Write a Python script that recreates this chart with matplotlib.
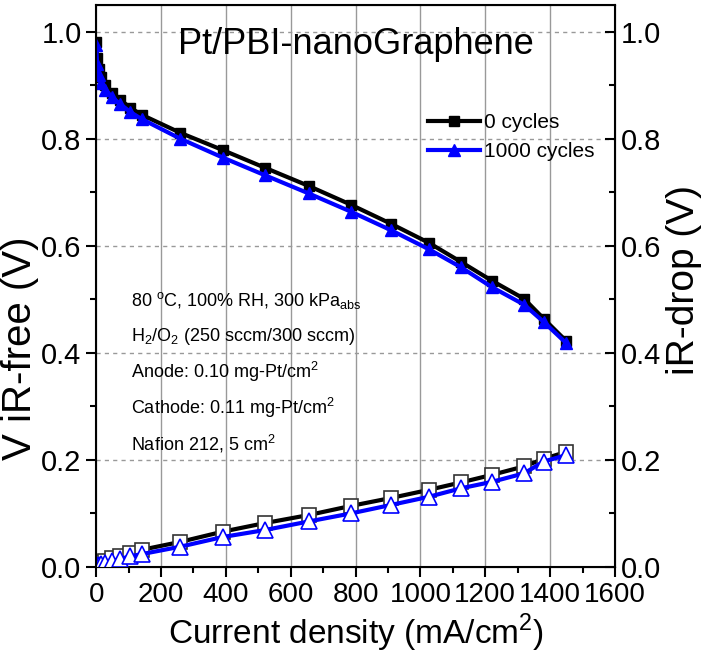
import matplotlib.pyplot as plt
import numpy as np

plt.rcParams['font.family'] = ['Liberation Sans Narrow', 'Liberation Sans', 'DejaVu Sans']
plt.rcParams['mathtext.fontset'] = 'custom'
plt.rcParams['mathtext.rm'] = 'Liberation Sans'

# current density (mA/cm2)
current = [0, 3, 8, 15, 28, 48, 74, 105, 140, 260, 390, 520, 655, 785, 910,
           1025, 1125, 1220, 1320, 1380, 1450]

# iR-free voltage (V)
v_0 = [0.98, 0.95, 0.93, 0.915, 0.90, 0.886, 0.873, 0.858, 0.845, 0.811, 0.779,
       0.746, 0.712, 0.677, 0.641, 0.606, 0.570, 0.535, 0.501, 0.464, 0.422]
v_1000 = [0.975, 0.94, 0.92, 0.905, 0.892, 0.878, 0.865, 0.850, 0.837, 0.800, 0.765,
          0.732, 0.698, 0.664, 0.629, 0.594, 0.560, 0.523, 0.490, 0.458, 0.418]

# iR-drop (V)
ir_0 = [0.002, 0.004, 0.006, 0.009, 0.012, 0.016, 0.020, 0.026, 0.032, 0.047, 0.066,
        0.082, 0.097, 0.114, 0.129, 0.144, 0.158, 0.172, 0.188, 0.202, 0.215]
ir_1000 = [0.001, 0.003, 0.004, 0.006, 0.008, 0.011, 0.015, 0.020, 0.024, 0.038, 0.056,
           0.069, 0.085, 0.100, 0.116, 0.131, 0.147, 0.159, 0.175, 0.197, 0.209]

fig = plt.figure(figsize=(7.02, 6.71), dpi=100)
ax = fig.add_axes([0.137, 0.155, 0.739, 0.8376])

# gridlines
for xv in range(200, 1600, 200):
    ax.axvline(xv, color='#999999', lw=1, zorder=0)
for yv in [0.2, 0.4, 0.6, 0.8, 1.0]:
    ax.axhline(yv, color='#999999', lw=1, ls=(0, (3, 3)), zorder=0)

# polarization curves
l0, = ax.plot(current, v_0, color='black', lw=3, marker='s', ms=7,
              mfc='black', mec='black', label='0 cycles', zorder=3)
l1, = ax.plot(current, v_1000, color='blue', lw=3, marker='^', ms=8,
              mfc='blue', mec='blue', label='1000 cycles', zorder=4)

# iR-drop curves
ax.plot(current, ir_0, color='black', lw=3, marker='s', ms=10,
        mfc='white', mec='#333333', mew=1.2, zorder=3)
ax.plot(current, ir_1000, color='blue', lw=3, marker='^', ms=11,
        mfc='white', mec='blue', mew=1.2, zorder=4)

ax.set_xlim(0, 1600)
ax.set_ylim(0, 1.05)
ax.set_xticks(np.arange(0, 1601, 200))
ax.set_xticks(np.arange(100, 1600, 200), minor=True)
ax.set_yticks(np.arange(0, 1.01, 0.2))
ax.set_yticks(np.arange(0.1, 1.0, 0.2), minor=True)
ax.yaxis.set_major_formatter(plt.FormatStrFormatter('%.1f'))
ax.tick_params(axis='both', which='major', direction='out', length=7, width=1.5,
               labelsize=21, top=False, right=False)
ax.tick_params(axis='x', which='major', labelsize=20)
ax.tick_params(axis='both', which='minor', direction='out', length=4, width=1.5,
               top=False, right=False)
for s in ax.spines.values():
    s.set_linewidth(1.5)

ax.set_xlabel('Current density (mA/cm$^2$)', fontsize=24, labelpad=3)
ax.set_ylabel('V iR-free (V)', fontsize=29)
ax.yaxis.set_label_coords(-0.11, 0.39)

ax2 = ax.twinx()
ax2.set_ylim(0, 1.05)
ax2.set_yticks(np.arange(0, 1.01, 0.2))
ax2.set_yticks(np.arange(0.1, 1.0, 0.2), minor=True)
ax2.yaxis.set_major_formatter(plt.FormatStrFormatter('%.1f'))
ax2.tick_params(axis='y', which='major', direction='in', length=7, width=1.5,
                labelsize=21, pad=4)
ax2.tick_params(axis='y', which='minor', direction='in', length=4, width=1.5)
ax2.set_ylabel('iR-drop (V)', fontsize=28, rotation=90)
ax2.yaxis.set_label_coords(1.098, 0.51)

ax.text(0.5, 0.929, 'Pt/PBI-nanoGraphene', transform=ax.transAxes,
        ha='center', va='center', fontsize=26)

notes = ['80 $^{\\rm o}$C, 100% RH, 300 kPa$_{\\rm abs}$',
         'H$_2$/O$_2$ (250 sccm/300 sccm)',
         'Anode: 0.10 mg-Pt/cm$^2$',
         'Cathode: 0.11 mg-Pt/cm$^2$',
         'Nafion 212, 5 cm$^2$']
for i, t in enumerate(notes):
    ax.text(0.067, 0.475 - i * 0.064, t, transform=ax.transAxes,
            ha='left', va='center', fontsize=13)

ax.legend(handles=[l0, l1], loc='upper right', bbox_to_anchor=(0.985, 0.83),
          frameon=False, fontsize=15, handlelength=2.5, handletextpad=0.2,
          labelspacing=0.5, borderaxespad=0.2)

fig.savefig('out.png', dpi=100)
